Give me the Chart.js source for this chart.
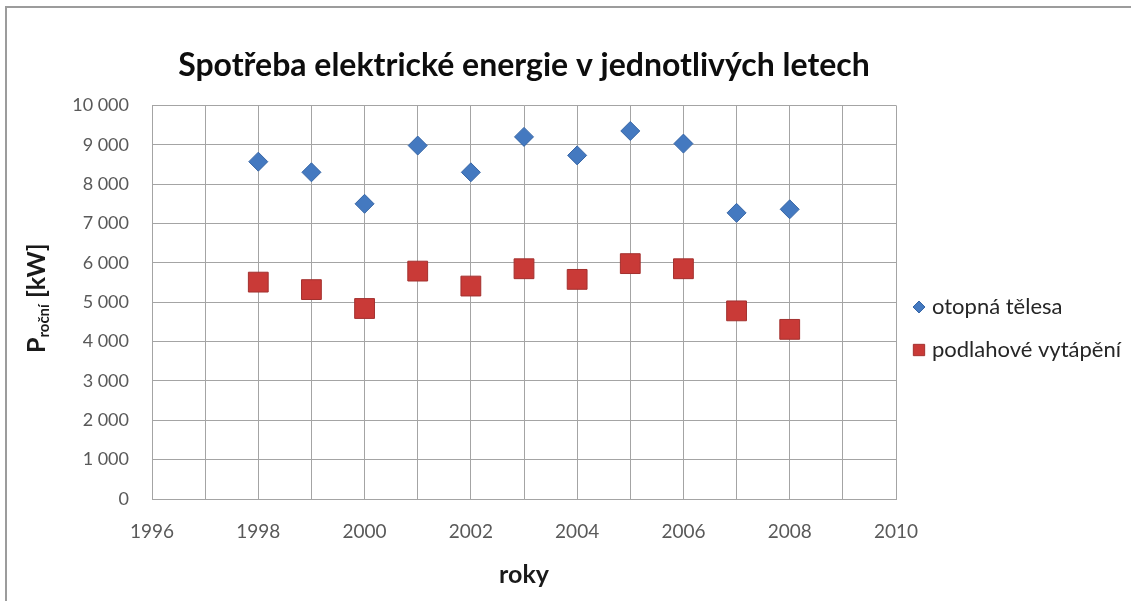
<!DOCTYPE html>
<html lang="cs">
<head>
<meta charset="utf-8">
<title>Spotřeba elektrické energie v jednotlivých letech</title>
<script src="https://cdn.jsdelivr.net/npm/chart.js@4/dist/chart.umd.min.js"></script>
<style>
  html, body { margin: 0; padding: 0; background: #ffffff; }
  #wrap { position: relative; width: 1131px; height: 601px; }
</style>
</head>
<body>
<div id="wrap"><canvas id="chart" width="1131" height="601"></canvas></div>
<script>
// Roky měření
const years = [1998, 1999, 2000, 2001, 2002, 2003, 2004, 2005, 2006, 2007, 2008];
// Roční spotřeba [kW] – otopná tělesa
const otopnaTelesa = [8570, 8300, 7500, 8980, 8300, 9200, 8730, 9350, 9030, 7270, 7360];
// Roční spotřeba [kW] – podlahové vytápění
const podlahoveVytapeni = [5510, 5320, 4840, 5790, 5410, 5850, 5580, 5980, 5850, 4780, 4310];
// Rozsah os
const xRange = [1996, 2010];
const yRange = [0, 10000];
const seriesNames = ['otopná tělesa', 'podlahové vytápění'];

const FONT = 'Lato, "Open Sans", "DejaVu Sans", sans-serif';
const GRID = '#a4a4a4';

function withSpaces(v) {
  return String(v).replace(/\B(?=(\d{3})+(?!\d))/g, ' ');
}

// Bílé pozadí a rámeček grafu
const frame = {
  id: 'frame',
  beforeDraw(chart) {
    const c = chart.ctx;
    c.save();
    c.fillStyle = '#ffffff';
    c.fillRect(0, 0, chart.width, chart.height);
    c.strokeStyle = '#9c9c9c';
    c.lineWidth = 2;
    c.beginPath();
    c.moveTo(6, chart.height);
    c.lineTo(6, 7);
    c.lineTo(chart.width, 7);
    c.stroke();
    c.restore();
  }
};

// Popisek osy Y s dolním indexem
const yTitle = {
  id: 'yTitle',
  afterDraw(chart) {
    const c = chart.ctx;
    const area = chart.chartArea;
    const parts = [
      { t: 'P', size: 25, dy: 0 },
      { t: 'roční', size: 15, dy: 7 },
      { t: ' [kW]', size: 25, dy: 0 }
    ];
    c.save();
    let total = 0;
    parts.forEach(p => { c.font = 'bold ' + p.size + 'px ' + FONT; p.w = c.measureText(p.t).width; total += p.w; });
    c.translate(37, (area.top + area.bottom) / 2 - 4);
    c.rotate(-Math.PI / 2);
    c.fillStyle = '#1a1a1a';
    c.textBaseline = 'middle';
    let x = -total / 2;
    parts.forEach(p => {
      c.font = 'bold ' + p.size + 'px ' + FONT;
      c.fillText(p.t, x, p.dy);
      x += p.w;
    });
    c.restore();
  }
};

// Legenda vpravo od grafu
const sideLegend = {
  id: 'sideLegend',
  afterDraw(chart) {
    const c = chart.ctx;
    const area = chart.chartArea;
    const x0 = area.right + 23;
    const ys = [307, 350];
    c.save();
    chart.data.datasets.forEach((ds, i) => {
      c.fillStyle = ds.backgroundColor;
      c.strokeStyle = ds.borderColor;
      c.lineWidth = 1;
      Chart.helpers.drawPoint(c, {
        pointStyle: ds.pointStyle,
        radius: ds.legendRadius,
        borderWidth: 1
      }, x0, ys[i]);
      c.fillStyle = '#262626';
      c.font = '22px ' + FONT;
      c.textBaseline = 'middle';
      c.fillText(ds.label, x0 + 13, ys[i]);
    });
    c.restore();
  }
};

new Chart(document.getElementById('chart'), {
  type: 'scatter',
  data: {
    datasets: [
      {
        label: seriesNames[0],
        data: years.map((y, i) => ({ x: y, y: otopnaTelesa[i] })),
        pointStyle: 'rectRot',
        pointRadius: 9.5,
        pointHoverRadius: 9.5,
        legendRadius: 6,
        backgroundColor: '#4479c0',
        borderColor: '#3766a6',
        borderWidth: 1
      },
      {
        label: seriesNames[1],
        data: years.map((y, i) => ({ x: y, y: podlahoveVytapeni[i] })),
        pointStyle: 'rect',
        pointRadius: 14,
        pointHoverRadius: 14,
        legendRadius: 8,
        backgroundColor: '#c93a37',
        borderColor: '#a3302e',
        borderWidth: 1
      }
    ]
  },
  options: {
    responsive: false,
    animation: false,
    layout: { padding: { left: 0, right: 235, top: 0, bottom: 0 } },
    plugins: {
      legend: { display: false },
      tooltip: { enabled: false },
      title: {
        display: true,
        fullSize: false,
        text: 'Spotřeba elektrické energie v jednotlivých letech',
        color: '#0d0d0d',
        font: { family: FONT, size: 32, weight: 'bold' },
        padding: { top: 46, bottom: 21 }
      }
    },
    scales: {
      x: {
        type: 'linear',
        min: xRange[0],
        max: xRange[1],
        border: { display: true, color: GRID, width: 1 },
        grid: { color: GRID, lineWidth: 1, drawTicks: false },
        ticks: {
          stepSize: 1,
          autoSkip: false,
          maxRotation: 0,
          padding: 21,
          color: '#595959',
          font: { family: FONT, size: 19 },
          callback: v => (v % 2 === 0 ? String(v) : '')
        },
        title: {
          display: true,
          text: 'roky',
          color: '#1a1a1a',
          font: { family: FONT, size: 25, weight: 'bold' },
          padding: { top: 0, bottom: 11 }
        },
        afterFit(scale) { scale.height = 102; }
      },
      y: {
        min: yRange[0],
        max: yRange[1],
        border: { display: true, color: GRID, width: 1 },
        grid: { color: GRID, lineWidth: 1, drawTicks: false },
        ticks: {
          stepSize: 1000,
          padding: 23,
          color: '#595959',
          font: { family: FONT, size: 18 },
          callback: v => withSpaces(v)
        },
        afterFit(scale) { scale.width = 152; }
      }
    }
  },
  plugins: [frame, yTitle, sideLegend]
});
</script>
</body>
</html>
